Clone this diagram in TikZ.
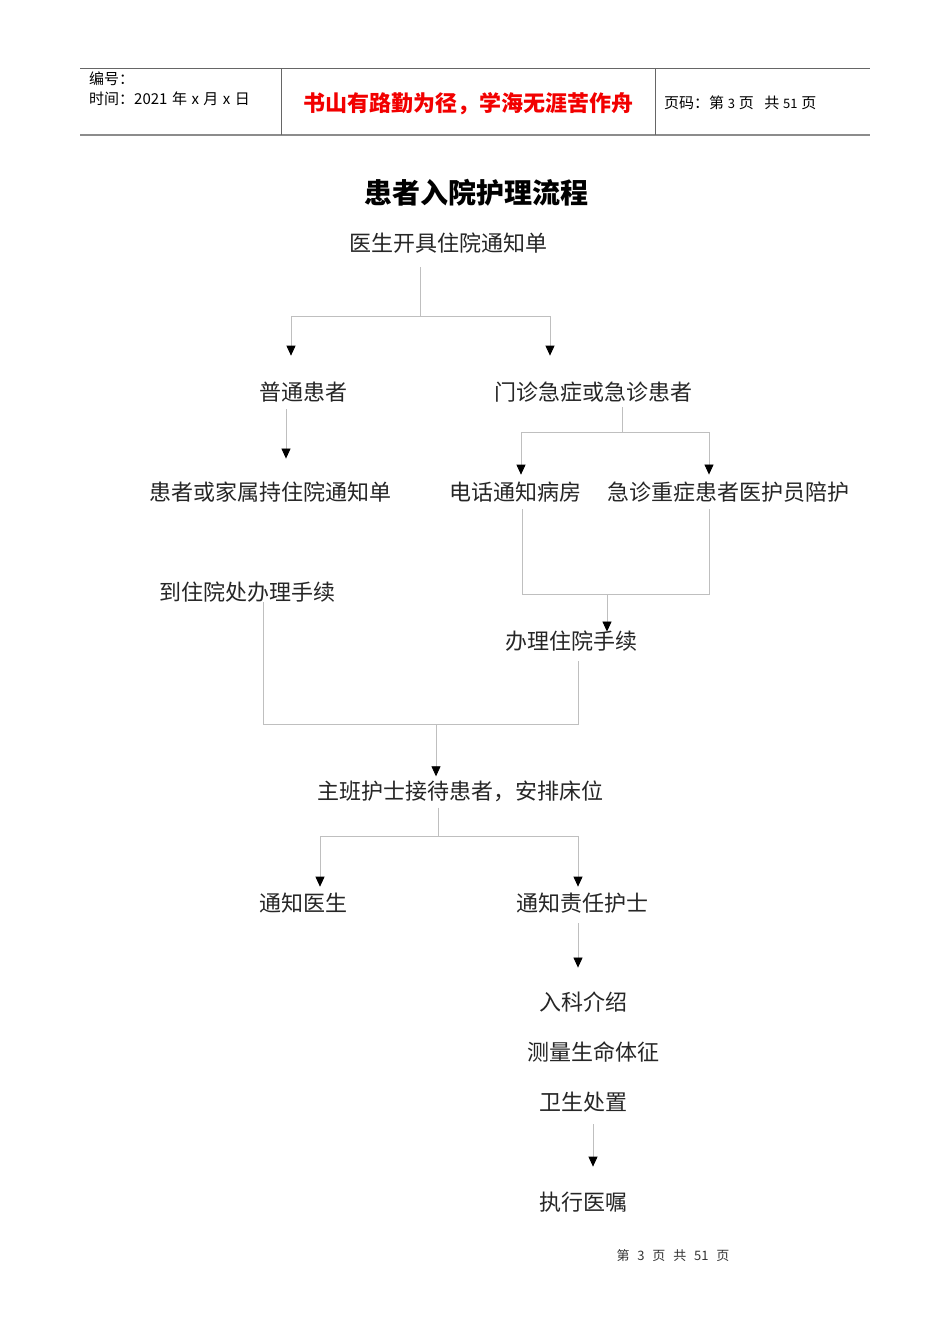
\documentclass[tikz,border=0pt]{standalone}
\usepackage{fontspec}
\setmainfont{Noto Sans CJK SC}
\usetikzlibrary{arrows.meta}
\begin{document}
\begin{tikzpicture}[x=1pt,y=-1pt,
  lbl/.style={font=\fontsize{22}{22}\selectfont, inner sep=0pt, text=black!85},
  hdr/.style={font=\fontsize{15}{15}\selectfont, inner sep=0pt, text=black, anchor=west},
  conn/.style={draw=black!25, line width=0.8pt},
  arr/.style={conn, -{Triangle[width=9pt,length=10pt,color=black]}},
  frame/.style={draw=black!60, line width=1pt}
]
\useasboundingbox (0,0) rectangle (950,1344);
\fill[white] (0,0) rectangle (950,1344);

% header
\draw[frame] (80,68) -- (870,68);
\draw[draw=black!45, line width=1.8pt] (80,135) -- (870,135);
\draw[frame, line width=0.8pt] (281,68) -- (281,135);
\draw[frame, line width=0.8pt] (655,68) -- (655,135);
\node[hdr] (num) at (89,79) {编号：};
\node[hdr] (time) at (89,99) {时间：2021\hspace{0.3em}年\hspace{0.3em}x\hspace{0.3em}月\hspace{0.3em}x\hspace{0.3em}日};
\node[font=\fontsize{22}{22}\selectfont\bfseries, text=red!95!black, inner sep=0pt] (motto) at (468,104) {书山有路勤为径，学海无涯苦作舟};
\node[hdr] (page) at (664,103) {页码：第\hspace{0.25em}{\fontsize{13}{13}\selectfont 3}\hspace{0.25em}页\hspace{0.7em}共\hspace{0.25em}{\fontsize{13}{13}\selectfont 51}\hspace{0.25em}页};

% title
\node[font=\fontsize{28}{28}\selectfont\bfseries, inner sep=0pt] (title) at (476,193) {患者入院护理流程};

% nodes
\node[lbl] (n1) at (448,243) {医生开具住院通知单};
\node[lbl] (pt) at (303,392) {普通患者};
\node[lbl] (em) at (593,392) {门诊急症或急诊患者};
\node[lbl] (fam) at (270,492) {患者或家属持住院通知单};
\node[lbl] (tel) at (515,492) {电话通知病房};
\node[lbl] (acc) at (728,492) {急诊重症患者医护员陪护};
\node[lbl] (go) at (247,592) {到住院处办理手续};
\node[lbl] (proc) at (571,641) {办理住院手续};
\node[lbl] (main) at (460,791) {主班护士接待患者，安排床位};
\node[lbl] (doc) at (303,903) {通知医生};
\node[lbl] (nurse) at (582,903) {通知责任护士};
\node[lbl] (intro) at (583,1002) {入科介绍};
\node[lbl] (vital) at (593,1052) {测量生命体征};
\node[lbl] (hyg) at (583,1102) {卫生处置};
\node[lbl] (exec) at (583,1202) {执行医嘱};

% footer
\node[font=\fontsize{13}{13}\selectfont, inner sep=0pt, text=black!80] (foot) at (673,1256) {第\hspace{0.6em}3\hspace{0.6em}页\hspace{0.6em}共\hspace{0.6em}51\hspace{0.6em}页};

% junction coordinates
\coordinate (j1) at (420,316);
\coordinate (j2) at (622,432);
\coordinate (j3) at (607,594);
\coordinate (j4) at (436,724);
\coordinate (j5) at (438,836);

% connectors
\draw[conn] (n1.south -| j1) ++(0,14) -- (j1);
\draw[arr] (j1) -| ([yshift=26pt]pt.north -| 291,0);
\draw[arr] (j1) -| ([yshift=26pt]em.north -| 550,0);

\draw[arr] ([yshift=-7pt]pt.south -| 286,0) -- ([yshift=23pt]fam.north -| 286,0);

\draw[conn] ([yshift=-5pt]em.south -| j2) -- (j2);
\draw[arr] (j2) -| ([yshift=7pt]tel.north -| 521,0);
\draw[arr] (j2) -| ([yshift=7pt]acc.north -| 709,0);

\draw[conn] ([yshift=-7pt]tel.south -| 522,0) |- (j3);
\draw[conn] ([yshift=-7pt]acc.south -| 709,0) |- (j3);
\draw[arr] (j3) -- ([yshift=-1pt]proc.north -| j3);

\draw[conn] (go.south -| 263,0) |- (j4);
\draw[conn] ([yshift=-10pt]proc.south -| 578,0) |- (j4);
\draw[arr] (j4) -- ([yshift=4pt]main.north -| j4);

\draw[conn] ([yshift=-6pt]main.south -| j5) -- (j5);
\draw[arr] (j5) -| ([yshift=6pt]doc.north -| 320,0);
\draw[arr] (j5) -| ([yshift=6pt]nurse.north -| 578,0);

\draw[arr] ([yshift=-10pt]nurse.south -| 578,0) -- ([yshift=24pt]intro.north -| 578,0);
\draw[arr] ([yshift=-12pt]hyg.south -| 593,0) -- ([yshift=25pt]exec.north -| 593,0);
\end{tikzpicture}
\end{document}
